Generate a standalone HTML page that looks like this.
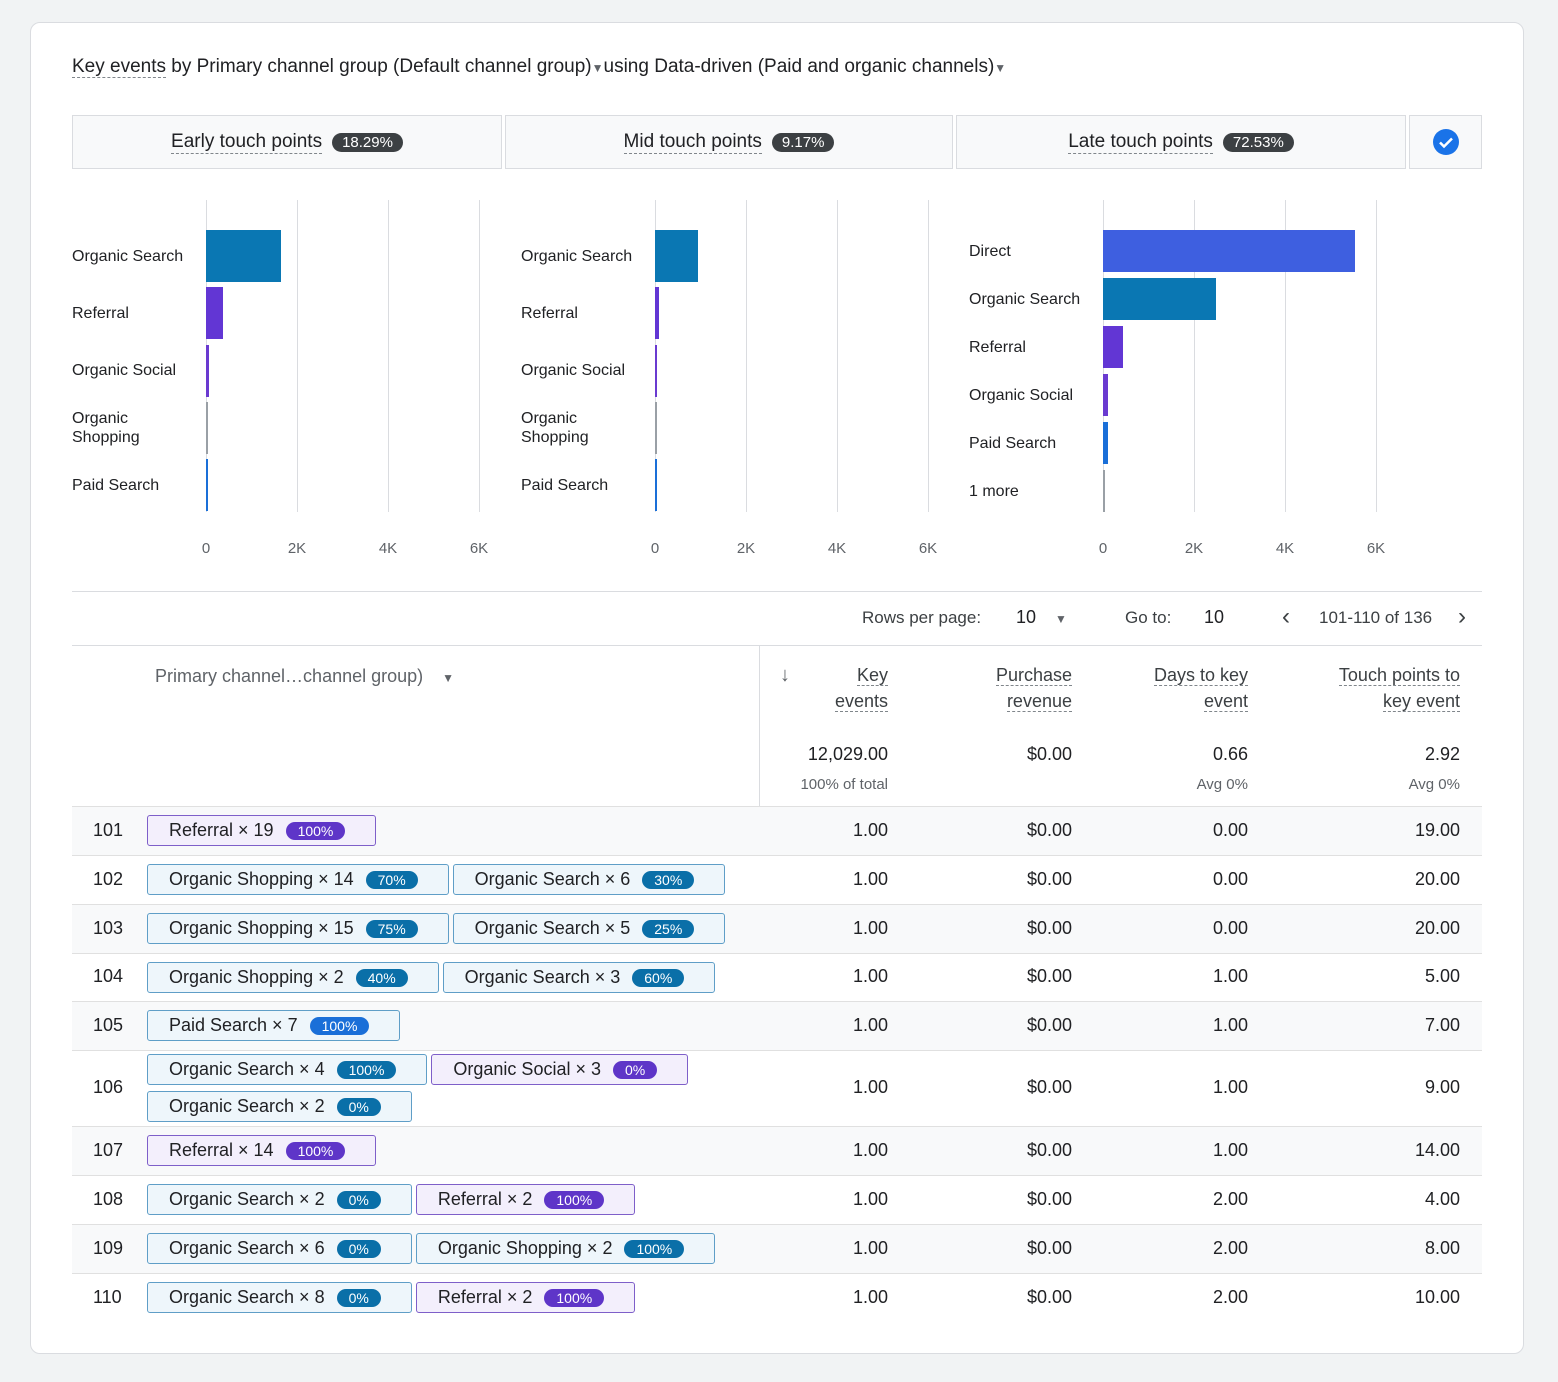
<!DOCTYPE html>
<html><head><meta charset="utf-8">
<style>
*{box-sizing:border-box}
body{margin:0;width:1558px;height:1382px;background:#f1f3f4;font-family:"Liberation Sans",sans-serif;color:#202124;position:relative;overflow:hidden}
.card{position:absolute;left:30px;top:22px;width:1494px;height:1332px;background:#fff;border:1px solid #dadce0;border-radius:10px}
.abs{position:absolute}
.dash{border-bottom:1.5px dashed #80868b}
.tab{position:absolute;top:115px;height:54px;background:#f8f9fa;border:1px solid #dadce0;display:flex;align-items:center;justify-content:center;font-size:19px}
.pill{background:#3c4043;color:#fff;font-size:15px;border-radius:10px;padding:1px 10px;margin-left:10px}
.lbl{position:absolute;font-size:16px;color:#202124;line-height:19px}
.tick{position:absolute;font-size:15px;color:#5f6368;transform:translateX(-50%)}
.grid{position:absolute;width:1px;background:#dadce0;top:200px;height:312px}
.row{position:absolute;left:72px;width:1410px;border-top:1px solid #e0e0e0}
.num{position:absolute;font-size:18px;text-align:right}
.chip{position:absolute;height:31px;border:1px solid #5f9ec7;border-radius:3px;background:#eef6fb;display:flex;align-items:center;padding-left:21px;padding-right:30px;font-size:18px;white-space:nowrap}
.chip.ref{background:#f3effc;border-color:#7e5fc9}
.chip .b{color:#fff;font-size:14px;border-radius:10px;padding:1px 12px;margin-left:12px;background:#0a6fa8}
.chip.ref .b{background:#5e35c8}
.chip.ps .b{background:#1a6fd8}
.hdr{font-size:18px;color:#3c4043;text-align:right;line-height:26px}
</style></head><body>
<div class="card"></div>
<div class="abs" style="left:72px;top:56px;font-size:19px"><span class="dash">Key events</span> by Primary channel group (Default channel group)<span style="font-size:12px;color:#5f6368">▼</span>using Data-driven (Paid and organic channels)<span style="font-size:12px;color:#5f6368">▼</span></div>

<div class="tab" style="left:72px;width:430px"><span class="dash">Early touch points</span><span class="pill">18.29%</span></div>
<div class="tab" style="left:505px;width:448px"><span class="dash">Mid touch points</span><span class="pill">9.17%</span></div>
<div class="tab" style="left:956px;width:450px"><span class="dash">Late touch points</span><span class="pill">72.53%</span></div>
<div class="tab" style="left:1409px;width:73px"><svg width="28" height="28"><circle cx="14" cy="14" r="13" fill="#1a73e8"/><path d="M8 14.5l4 4 8-8" stroke="#fff" stroke-width="2.5" fill="none"/></svg></div>

<div id="charts"></div>

<div class="abs" style="left:72px;top:591px;width:1410px;border-top:1px solid #dadce0"></div>
<div class="abs" style="left:862px;top:608px;font-size:17px;color:#3c4043">Rows per page:</div>
<div class="abs" style="left:1016px;top:607px;font-size:18px">10 <span style="font-size:12px;color:#5f6368;margin-left:14px">▼</span></div>
<div class="abs" style="left:1125px;top:608px;font-size:17px;color:#3c4043">Go to:</div>
<div class="abs" style="left:1204px;top:607px;font-size:18px">10</div>
<div class="abs" style="left:1282px;top:603px;font-size:24px;color:#3c4043">‹</div>
<div class="abs" style="left:1319px;top:608px;font-size:17px;color:#3c4043">101-110 of 136</div>
<div class="abs" style="left:1458px;top:603px;font-size:24px;color:#3c4043">›</div>
<div class="abs" style="left:72px;top:645px;width:1410px;border-top:1px solid #dadce0"></div>

<div class="abs" style="left:155px;top:666px;font-size:18px;color:#5f6368">Primary channel…channel group) <span style="font-size:12px;margin-left:14px">▼</span></div>
<div class="abs" style="left:759px;top:646px;width:1px;height:676px;background:#dadce0"></div>
<div class="abs" style="left:780px;top:664px;font-size:20px;color:#5f6368">↓</div>
<div class="abs hdr" style="right:670px;top:662px"><span class="dash">Key</span><br><span class="dash">events</span></div>
<div class="abs hdr" style="right:486px;top:662px"><span class="dash">Purchase</span><br><span class="dash">revenue</span></div>
<div class="abs hdr" style="right:310px;top:662px"><span class="dash">Days to key</span><br><span class="dash">event</span></div>
<div class="abs hdr" style="right:98px;top:662px"><span class="dash">Touch points to</span><br><span class="dash">key event</span></div>
<div class="num" style="right:670px;top:744px">12,029.00</div>
<div class="num" style="right:486px;top:744px">$0.00</div>
<div class="num" style="right:310px;top:744px">0.66</div>
<div class="num" style="right:98px;top:744px">2.92</div>
<div class="num" style="right:670px;top:776px;font-size:15px;color:#5f6368">100% of total</div>
<div class="num" style="right:310px;top:776px;font-size:15px;color:#5f6368">Avg 0%</div>
<div class="num" style="right:98px;top:776px;font-size:15px;color:#5f6368">Avg 0%</div>
<div id="table"></div>

<script>
const colors={"Organic Search":"#0a77b3","Referral":"#6236d4","Organic Social":"#6a3ad0","Organic Shopping":"#9aa0a6","Paid Search":"#1a6fd8","Direct":"#3e5fe0","1 more":"#9aa0a6"};
const ticks=["0","2K","4K","6K"];
const tickValues=[0,2000,4000,6000];
const earlyCats=["Organic Search","Referral","Organic Social","Organic\nShopping","Paid Search"];
const earlyVals=[1650,380,60,40,30];
const midCats=["Organic Search","Referral","Organic Social","Organic\nShopping","Paid Search"];
const midVals=[950,90,40,30,30];
const lateCats=["Direct","Organic Search","Referral","Organic Social","Paid Search","1 more"];
const lateVals=[5540,2480,440,100,100,50];

const charts=document.getElementById('charts');
function drawChart(cats,vals,labelX,x0,rowTops,rowH,barH,name){
  const sc=v=>x0+v*(91/2000);
  tickValues.forEach((t,i)=>{
    const g=document.createElement('div');g.className='grid';g.style.left=sc(t)+'px';
    
    
    charts.appendChild(g);
    const l=document.createElement('div');l.className='tick';l.style.left=sc(t)+'px';l.style.top='540px';l.textContent=ticks[i];
    
    
    charts.appendChild(l);
  });
  cats.forEach((c,i)=>{
    const cy=rowTops+i*rowH;
    const key=c.replace('\n',' ');
    const lb=document.createElement('div');lb.className='lbl';lb.style.left=labelX+'px';
    lb.innerHTML=c.replace('\n','<br>');
    const lines=c.split('\n').length;
    lb.style.top=(cy-lines*19/2)+'px';
    
    
    charts.appendChild(lb);
    const b=document.createElement('div');b.className='abs';
    b.style.left=x0+'px';b.style.top=(cy-barH/2)+'px';b.style.height=barH+'px';
    b.style.width=Math.max(2,sc(vals[i])-x0)+'px';b.style.background=colors[key];
    
    
    charts.appendChild(b);
  });
}
drawChart(earlyCats,earlyVals,72,206,256,57.3,52,'early');
drawChart(midCats,midVals,521,655,256,57.3,52,'mid');
drawChart(lateCats,lateVals,969,1103,251,48,42,'late');

const rowIds=[101,102,103,104,105,106,107,108,109,110];
const keyEvents=["1.00","1.00","1.00","1.00","1.00","1.00","1.00","1.00","1.00","1.00"];
const revenue=["$0.00","$0.00","$0.00","$0.00","$0.00","$0.00","$0.00","$0.00","$0.00","$0.00"];
const days=["0.00","0.00","0.00","1.00","1.00","1.00","1.00","2.00","2.00","2.00"];
const touch=["19.00","20.00","20.00","5.00","7.00","9.00","14.00","4.00","8.00","10.00"];
const paths=[
 [["Referral × 19","100%","ref"]],
 [["Organic Shopping × 14","70%",""],["Organic Search × 6","30%",""]],
 [["Organic Shopping × 15","75%",""],["Organic Search × 5","25%",""]],
 [["Organic Shopping × 2","40%",""],["Organic Search × 3","60%",""]],
 [["Paid Search × 7","100%","ps"]],
 [["Organic Search × 4","100%",""],["Organic Social × 3","0%","ref"],["Organic Search × 2","0%",""]],
 [["Referral × 14","100%","ref"]],
 [["Organic Search × 2","0%",""],["Referral × 2","100%","ref"]],
 [["Organic Search × 6","0%",""],["Organic Shopping × 2","100%",""]],
 [["Organic Search × 8","0%",""],["Referral × 2","100%","ref"]]
];
const rowTopsT=[806,855,904,953,1001,1050,1126,1175,1224,1273];
const rowHs=[49,49,49,48,49,76,49,49,49,49];
const tb=document.getElementById('table');
rowIds.forEach((id,i)=>{
  const top=rowTopsT[i],h=rowHs[i];
  const r=document.createElement('div');r.className='row';r.style.top=top+'px';r.style.height=h+'px';
  r.style.background=i%2==0?'#f8f9fa':'#fff';
  
  
  tb.appendChild(r);
  const cy=top+h/2-11;
  const n=document.createElement('div');n.className='num';n.style.left='93px';n.style.top=cy+'px';n.textContent=id;
  
  
  tb.appendChild(n);
  [[keyEvents,670],[revenue,486],[days,310],[touch,98]].forEach(([arr,rt])=>{
    const c=document.createElement('div');c.className='num';c.style.right=rt+'px';c.style.top=cy+'px';c.textContent=arr[i];
    
    
    tb.appendChild(c);
  });
  let x=147;
  paths[i].forEach((p,j)=>{
    const ch=document.createElement('div');ch.className='chip '+p[2];
    let ct=top+9;
    if(i==5){ct=j<2?top+4:top+41;if(j==2)x=147;}
    ch.style.left=x+'px';ch.style.top=ct+'px';
    ch.innerHTML=p[0]+'<span class="b">'+p[1]+'</span>';
    
    
    tb.appendChild(ch);
    x+=ch.getBoundingClientRect().width+4;
  });
});
</script>
</body></html>
